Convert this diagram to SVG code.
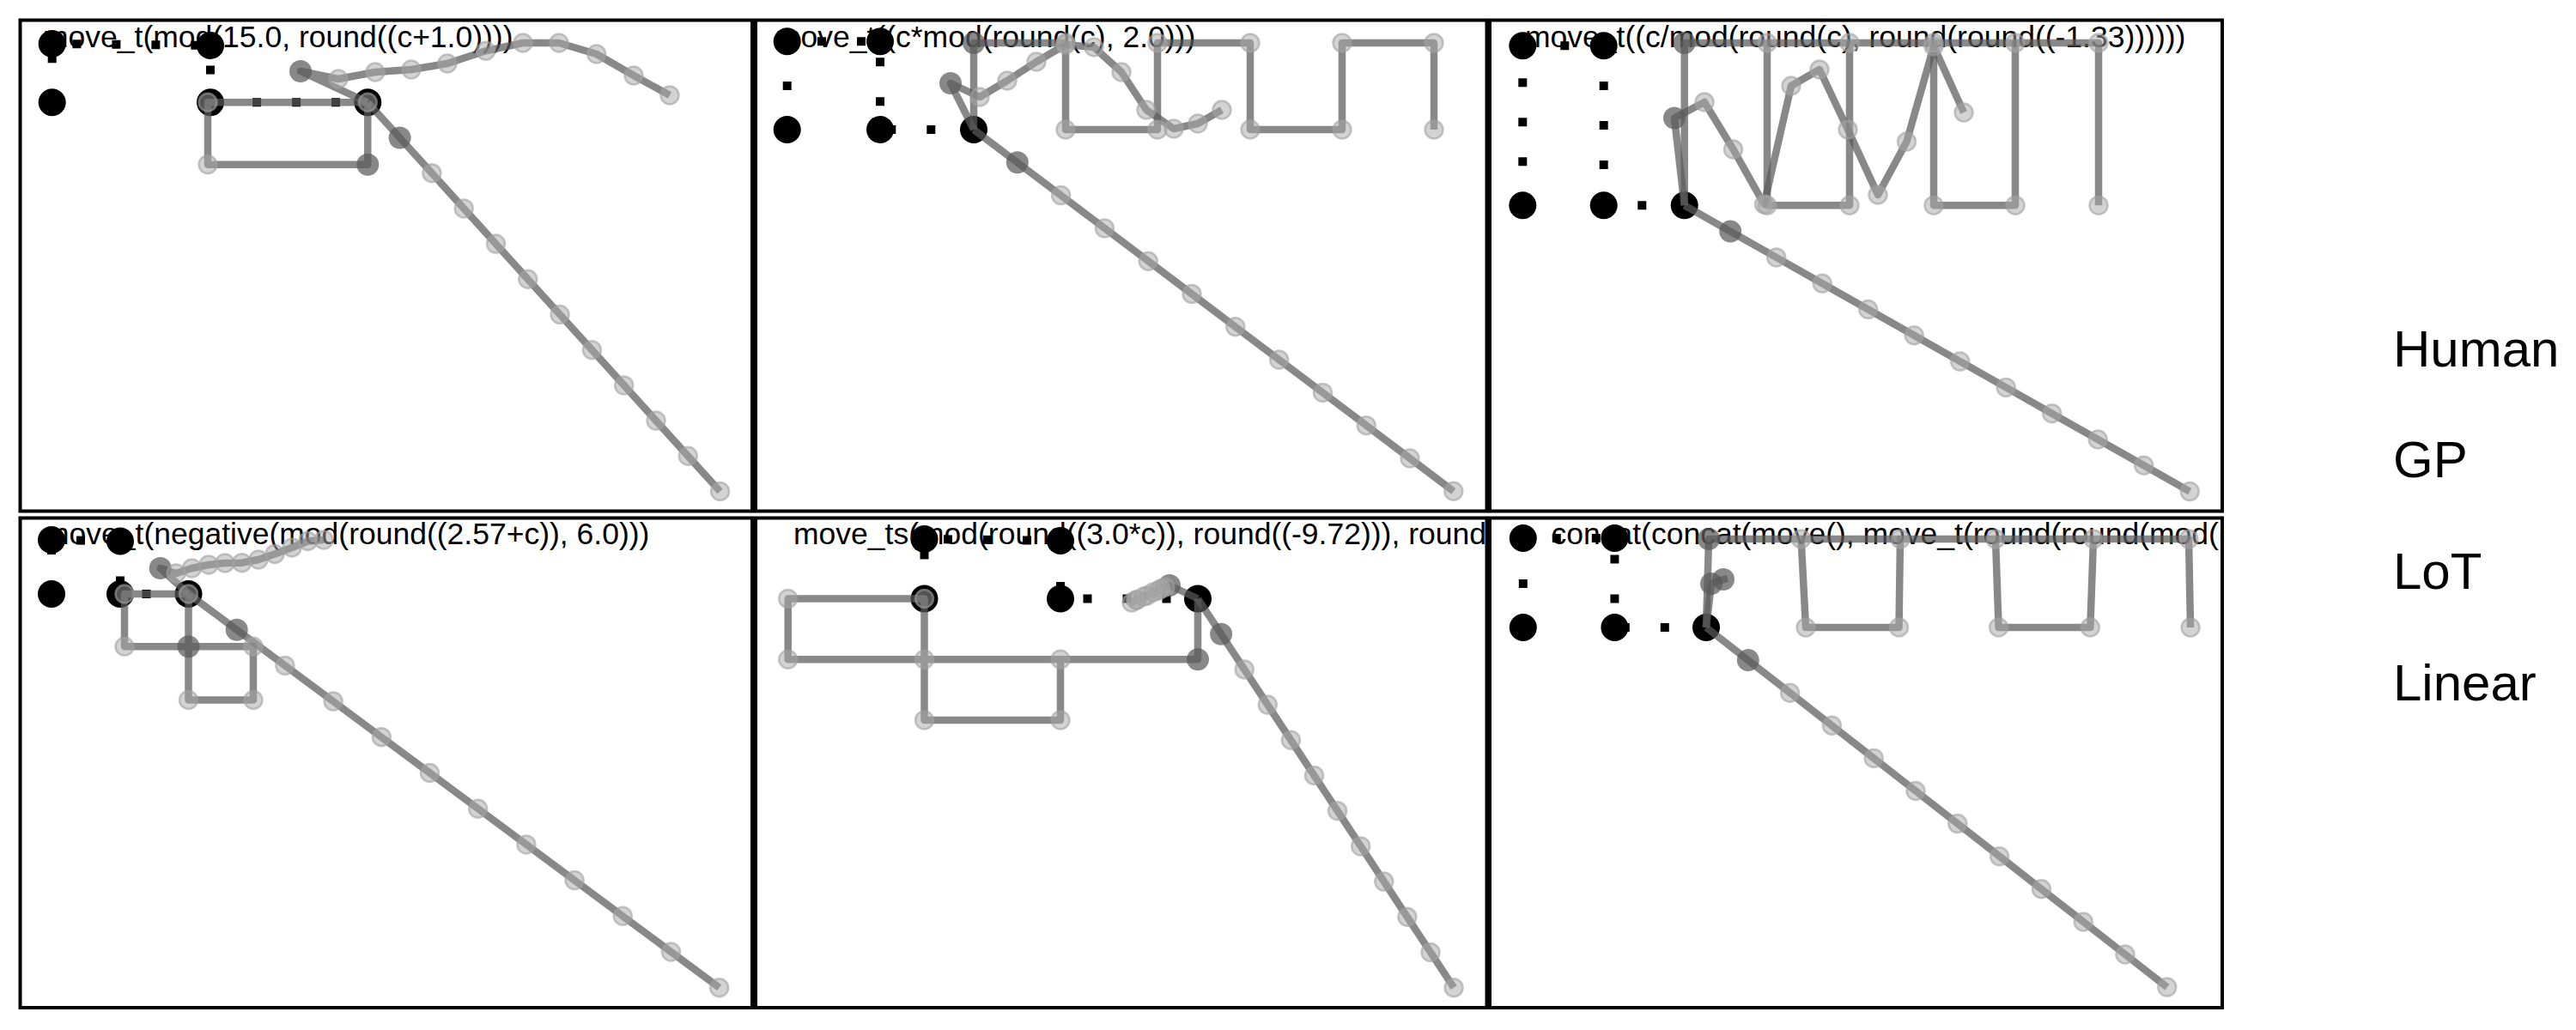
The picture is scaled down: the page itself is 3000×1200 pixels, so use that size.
<svg xmlns="http://www.w3.org/2000/svg" xmlns:xlink="http://www.w3.org/1999/xlink" width="3000" height="1200" viewBox="0 0 3000 1200">
<style>
.frame{fill:none;stroke:#000;stroke-width:4}
.title{font-family:"Liberation Sans",Arial,Helvetica,sans-serif;font-size:35.5px;fill:#000}
.legend{font-family:"Liberation Sans",Arial,Helvetica,sans-serif;font-size:60px;fill:#000}
.hl{fill:none;stroke:#000;stroke-width:10;stroke-dasharray:10 36}
.md{fill:none;stroke:#5a5a5a;stroke-opacity:0.72;stroke-width:8.5;stroke-linejoin:round}
.mkc{fill:#a8a8a8;fill-opacity:0.5;stroke:#a0a0a0;stroke-opacity:0.6;stroke-width:2.5}
.fpc{fill:#5a5a5a;fill-opacity:0.72}
</style>
<defs>
<circle id="hd" r="16" fill="#000"/>
<circle id="mk" r="10.5" class="mkc"/>
<circle id="fp" r="13" class="fpc"/>
<clipPath id="c1"><rect x="25.5" y="25.5" width="848.5" height="568"/></clipPath>
<clipPath id="c2"><rect x="882" y="25.5" width="847.5" height="568"/></clipPath>
<clipPath id="c3"><rect x="1737" y="25.5" width="849" height="568"/></clipPath>
<clipPath id="c4"><rect x="25.5" y="605.5" width="848.5" height="566.5"/></clipPath>
<clipPath id="c5"><rect x="882" y="605.5" width="847.5" height="566.5"/></clipPath>
<clipPath id="c6"><rect x="1737" y="605.5" width="849" height="566.5"/></clipPath>
</defs>
<rect width="3000" height="1200" fill="#fff"/>

<g id="panel1" clip-path="url(#c1)">
<text class="title" x="50" y="55">move_t(mod(15.0, round((c+1.0))))</text>
<polyline class="hl" points="60.7,119.3 60.7,51 245,53 245,119.3 428.3,119.3"/>
<use href="#hd" x="60.7" y="51"/><use href="#hd" x="245" y="53"/><use href="#hd" x="60.7" y="119.3"/><use href="#hd" x="245" y="119.3"/><use href="#hd" x="428.3" y="119.3"/>
<polyline class="md" points="428.3,119.3 350,83 394,92 437,84 479,81 521,74 565.7,59.3 609,50 651,50 694.7,63 738,88 780,111"/>
<polyline class="md" points="428.3,119.3 428.3,191.7 242,191.7 242,119.3 428.3,119.3"/>
<polyline class="md" points="428.3,119.3 465.6,160.5 502.9,201.7 540.2,242.9 577.5,284.1 614.8,325.3 652.1,366.5 689.4,407.7 726.7,448.9 764,490.1 801.3,531.3 838.6,572.5"/>
<use href="#fp" x="350" y="83"/><use href="#fp" x="465.6" y="160.5"/><use href="#fp" x="428.3" y="191.7"/>
<use href="#mk" x="394" y="92"/><use href="#mk" x="437" y="84"/><use href="#mk" x="479" y="81"/><use href="#mk" x="521" y="74"/><use href="#mk" x="565.7" y="59.3"/><use href="#mk" x="609" y="50"/><use href="#mk" x="651" y="50"/><use href="#mk" x="694.7" y="63"/><use href="#mk" x="738" y="88"/><use href="#mk" x="780" y="111"/>
<use href="#mk" x="242" y="191.7"/><use href="#mk" x="242" y="119.3"/><use href="#mk" x="428.3" y="119.3"/>
<use href="#mk" x="502.9" y="201.7"/><use href="#mk" x="540.2" y="242.9"/><use href="#mk" x="577.5" y="284.1"/><use href="#mk" x="614.8" y="325.3"/><use href="#mk" x="652.1" y="366.5"/><use href="#mk" x="689.4" y="407.7"/><use href="#mk" x="726.7" y="448.9"/><use href="#mk" x="764" y="490.1"/><use href="#mk" x="801.3" y="531.3"/><use href="#mk" x="838.6" y="572.5"/>
</g>
<rect class="frame" x="23.5" y="23.5" width="852.5" height="572"/>

<g id="panel2" clip-path="url(#c2)">
<text class="title" x="903" y="55">move_t((c*mod(round(c), 2.0)))</text>
<polyline class="hl" points="916.7,151 916.7,48.3 1025,48.3 1025,151 1134,151"/>
<use href="#hd" x="916.7" y="48.3"/><use href="#hd" x="1025" y="48.3"/><use href="#hd" x="916.7" y="151"/><use href="#hd" x="1025" y="151"/><use href="#hd" x="1134" y="151"/>
<polyline class="md" points="1134,151 1134,50 1241,50 1241,151 1348,151 1348,50 1456,50 1456,151 1563,151 1563,50 1670,50 1670,151"/>
<polyline class="md" points="1134,151 1107,97 1141,113 1173,94 1207,72 1241,52 1274,55 1306,84 1335,128 1367,150 1395,144 1423,128"/>
<polyline class="md" points="1134,151 1184.8,189.3 1235.6,227.6 1286.4,265.9 1337.2,304.2 1388,342.5 1438.8,380.8 1489.6,419.1 1540.4,457.4 1591.2,495.7 1642,534 1692.8,572.3"/>
<use href="#fp" x="1134" y="50"/><use href="#fp" x="1107" y="97"/><use href="#fp" x="1184.8" y="189.3"/>
<use href="#mk" x="1241" y="50"/><use href="#mk" x="1241" y="151"/><use href="#mk" x="1348" y="151"/><use href="#mk" x="1348" y="50"/><use href="#mk" x="1456" y="50"/><use href="#mk" x="1456" y="151"/><use href="#mk" x="1563" y="151"/><use href="#mk" x="1563" y="50"/><use href="#mk" x="1670" y="50"/><use href="#mk" x="1670" y="151"/>
<use href="#mk" x="1141" y="113"/><use href="#mk" x="1173" y="94"/><use href="#mk" x="1207" y="72"/><use href="#mk" x="1241" y="52"/><use href="#mk" x="1274" y="55"/><use href="#mk" x="1306" y="84"/><use href="#mk" x="1335" y="128"/><use href="#mk" x="1367" y="150"/><use href="#mk" x="1395" y="144"/><use href="#mk" x="1423" y="128"/>
<use href="#mk" x="1235.6" y="227.6"/><use href="#mk" x="1286.4" y="265.9"/><use href="#mk" x="1337.2" y="304.2"/><use href="#mk" x="1388" y="342.5"/><use href="#mk" x="1438.8" y="380.8"/><use href="#mk" x="1489.6" y="419.1"/><use href="#mk" x="1540.4" y="457.4"/><use href="#mk" x="1591.2" y="495.7"/><use href="#mk" x="1642" y="534"/><use href="#mk" x="1692.8" y="572.3"/>
</g>
<rect class="frame" x="880" y="23.5" width="851.5" height="572"/>

<g id="panel3" clip-path="url(#c3)">
<text class="title" x="1776" y="55">move_t((c/mod(round(c), round(round((-1.33))))))</text>
<polyline class="hl" points="1773.3,239.3 1773.3,53.3 1867.7,53.3 1867.7,239.3 1961.7,239.3"/>
<use href="#hd" x="1773.3" y="53.3"/><use href="#hd" x="1867.7" y="53.3"/><use href="#hd" x="1773.3" y="239.3"/><use href="#hd" x="1867.7" y="239.3"/><use href="#hd" x="1961.7" y="239.3"/>
<polyline class="md" points="1961.7,239.3 1961.7,50 2058,50 2058,239.3 2154,239.3 2154,50 2252,50 2252,239.3 2347,239.3 2347,50 2444,50 2444,239.3"/>
<polyline class="md" points="2058,50 2154,50"/>
<polyline class="md" points="2252,50 2347,50"/>
<polyline class="md" points="1961.7,239.3 1950,137.5 1985,119 2018.5,174 2054.5,238 2086,100 2119,81 2152,151 2187,227 2220.5,165 2252,54 2287,131"/>
<polyline class="md" points="1961.7,239.3 2015.2,269.6 2068.7,299.9 2122.2,330.2 2175.7,360.5 2229.2,390.8 2282.7,421.1 2336.2,451.4 2389.7,481.7 2443.2,512 2496.7,542.3 2550.2,572.6"/>
<use href="#fp" x="1961.7" y="50"/><use href="#fp" x="1950" y="137.5"/><use href="#fp" x="2015.2" y="269.6"/>
<use href="#mk" x="2058" y="50"/><use href="#mk" x="2058" y="239.3"/><use href="#mk" x="2154" y="239.3"/><use href="#mk" x="2154" y="50"/><use href="#mk" x="2252" y="50"/><use href="#mk" x="2252" y="239.3"/><use href="#mk" x="2347" y="239.3"/><use href="#mk" x="2347" y="50"/><use href="#mk" x="2444" y="50"/><use href="#mk" x="2444" y="239.3"/>
<use href="#mk" x="1985" y="119"/><use href="#mk" x="2018.5" y="174"/><use href="#mk" x="2054.5" y="238"/><use href="#mk" x="2086" y="100"/><use href="#mk" x="2119" y="81"/><use href="#mk" x="2152" y="151"/><use href="#mk" x="2187" y="227"/><use href="#mk" x="2220.5" y="165"/><use href="#mk" x="2252" y="54"/><use href="#mk" x="2287" y="131"/>
<use href="#mk" x="2068.7" y="299.9"/><use href="#mk" x="2122.2" y="330.2"/><use href="#mk" x="2175.7" y="360.5"/><use href="#mk" x="2229.2" y="390.8"/><use href="#mk" x="2282.7" y="421.1"/><use href="#mk" x="2336.2" y="451.4"/><use href="#mk" x="2389.7" y="481.7"/><use href="#mk" x="2443.2" y="512"/><use href="#mk" x="2496.7" y="542.3"/><use href="#mk" x="2550.2" y="572.6"/>
</g>
<rect class="frame" x="1735" y="23.5" width="853" height="572"/>

<g id="panel4" clip-path="url(#c4)">
<text class="title" x="51" y="633.5">move_t(negative(mod(round((2.57+c)), 6.0)))</text>
<polyline class="hl" points="60,692 60,629 140,630.5 140,692 219.5,692"/>
<use href="#hd" x="60" y="629"/><use href="#hd" x="140" y="630.5"/><use href="#hd" x="60" y="692"/><use href="#hd" x="140" y="692"/><use href="#hd" x="219.5" y="692"/>
<polyline class="md" points="219.5,692 219.5,753.3 219.5,815.5 295,815.5 295,753.3 219.5,753.3 145,753.3 145,692 219.5,692"/>
<polyline class="md" points="219.5,692 186.7,662 205,668 223.5,662 243,658 262,656 281.7,655.7 301,652 320,645.5 340,638 358.5,630.5 377,629"/>
<polyline class="md" points="219.5,692 275.7,733.7 331.9,775.4 388.1,817.1 444.3,858.8 500.5,900.5 556.7,942.2 612.9,983.9 669.1,1025.6 725.3,1067.3 781.5,1109 837.7,1150.7"/>
<use href="#fp" x="219.5" y="753.3"/><use href="#fp" x="186.7" y="662"/><use href="#fp" x="275.7" y="733.7"/>
<use href="#mk" x="219.5" y="815.5"/><use href="#mk" x="295" y="815.5"/><use href="#mk" x="295" y="753.3"/><use href="#mk" x="145" y="753.3"/><use href="#mk" x="145" y="692"/><use href="#mk" x="219.5" y="692"/>
<use href="#mk" x="205" y="668"/><use href="#mk" x="223.5" y="662"/><use href="#mk" x="243" y="658"/><use href="#mk" x="262" y="656"/><use href="#mk" x="281.7" y="655.7"/><use href="#mk" x="301" y="652"/><use href="#mk" x="320" y="645.5"/><use href="#mk" x="340" y="638"/><use href="#mk" x="358.5" y="630.5"/><use href="#mk" x="377" y="629"/>
<use href="#mk" x="331.9" y="775.4"/><use href="#mk" x="388.1" y="817.1"/><use href="#mk" x="444.3" y="858.8"/><use href="#mk" x="500.5" y="900.5"/><use href="#mk" x="556.7" y="942.2"/><use href="#mk" x="612.9" y="983.9"/><use href="#mk" x="669.1" y="1025.6"/><use href="#mk" x="725.3" y="1067.3"/><use href="#mk" x="781.5" y="1109"/><use href="#mk" x="837.7" y="1150.7"/>
</g>
<rect class="frame" x="23.5" y="603.5" width="852.5" height="570.5"/>

<g id="panel5" clip-path="url(#c5)">
<text class="title" x="924" y="633.5">move_ts(mod(round((3.0*c)), round((-9.72))), round</text>
<polyline class="hl" points="1076.5,697.5 1076.5,628 1235,630 1235,697.5 1395,697.5"/>
<use href="#hd" x="1076.5" y="628"/><use href="#hd" x="1235" y="630"/><use href="#hd" x="1076.5" y="697.5"/><use href="#hd" x="1235" y="697.5"/><use href="#hd" x="1395" y="697.5"/>
<polyline class="md" points="1395,697.5 1395,768.2 1235,768.2 1076.5,768.2 917.7,768.2 917.7,697.5 1076.5,697.5 1076.5,768.2 1076.5,839 1235,839 1235,768.2"/>
<polyline class="md" points="1395,697.5 1362,682 1349,688 1336,694 1324,699 1318,702 1323,699 1332,695 1343,690 1352,686 1357,684"/>
<polyline class="md" points="1395,697.5 1422.1,738.7 1449.2,779.9 1476.3,821.1 1503.4,862.3 1530.5,903.5 1557.6,944.7 1584.7,985.9 1611.8,1027.1 1638.9,1068.3 1666,1109.5 1693.1,1150.7"/>
<use href="#fp" x="1395" y="768.2"/><use href="#fp" x="1362" y="682"/><use href="#fp" x="1422.1" y="738.7"/>
<use href="#mk" x="1235" y="768.2"/><use href="#mk" x="1076.5" y="768.2"/><use href="#mk" x="917.7" y="768.2"/><use href="#mk" x="917.7" y="697.5"/><use href="#mk" x="1076.5" y="697.5"/><use href="#mk" x="1076.5" y="839"/><use href="#mk" x="1235" y="839"/>
<use href="#mk" x="1349" y="688"/><use href="#mk" x="1336" y="694"/><use href="#mk" x="1324" y="699"/><use href="#mk" x="1318" y="702"/><use href="#mk" x="1323" y="699"/><use href="#mk" x="1332" y="695"/><use href="#mk" x="1343" y="690"/><use href="#mk" x="1352" y="686"/><use href="#mk" x="1357" y="684"/>
<use href="#mk" x="1449.2" y="779.9"/><use href="#mk" x="1476.3" y="821.1"/><use href="#mk" x="1503.4" y="862.3"/><use href="#mk" x="1530.5" y="903.5"/><use href="#mk" x="1557.6" y="944.7"/><use href="#mk" x="1584.7" y="985.9"/><use href="#mk" x="1611.8" y="1027.1"/><use href="#mk" x="1638.9" y="1068.3"/><use href="#mk" x="1666" y="1109.5"/><use href="#mk" x="1693.1" y="1150.7"/>
</g>
<rect class="frame" x="880" y="603.5" width="851.5" height="570.5"/>

<g id="panel6" clip-path="url(#c6)">
<text class="title" x="1806.5" y="633.5">concat(concat(move(), move_t(round(round(mod((</text>
<polyline class="hl" points="1773.8,731 1773.8,627 1880.4,627 1880.4,731 1987,731"/>
<use href="#hd" x="1773.8" y="627"/><use href="#hd" x="1880.4" y="627"/><use href="#hd" x="1773.8" y="731"/><use href="#hd" x="1880.4" y="731"/><use href="#hd" x="1987" y="731"/>
<polyline class="md" points="1987,731 1990,628 2097.6,628 2103,731 2211.5,731 2213,628 2324,628 2327.6,731 2434.3,731 2438,628 2549,628 2551,731"/>
<polyline class="md" points="2097.6,628 2213,628"/>
<polyline class="md" points="2324,628 2438,628"/>
<polyline class="md" points="1987,731 1993,680 2004,676 2012,674"/>
<polyline class="md" points="1987,731 2035.8,769.1 2084.6,807.2 2133.4,845.3 2182.2,883.4 2231,921.5 2279.8,959.6 2328.6,997.7 2377.4,1035.8 2426.2,1073.9 2475,1112 2523.8,1150.1"/>
<use href="#fp" x="1990" y="628"/><use href="#fp" x="1993" y="680"/><use href="#fp" x="2007" y="675"/><use href="#fp" x="2035.8" y="769.1"/>
<use href="#mk" x="2097.6" y="628"/><use href="#mk" x="2103" y="731"/><use href="#mk" x="2211.5" y="731"/><use href="#mk" x="2213" y="628"/><use href="#mk" x="2324" y="628"/><use href="#mk" x="2327.6" y="731"/><use href="#mk" x="2434.3" y="731"/><use href="#mk" x="2438" y="628"/><use href="#mk" x="2549" y="628"/><use href="#mk" x="2551" y="731"/>
<use href="#mk" x="2084.6" y="807.2"/><use href="#mk" x="2133.4" y="845.3"/><use href="#mk" x="2182.2" y="883.4"/><use href="#mk" x="2231" y="921.5"/><use href="#mk" x="2279.8" y="959.6"/><use href="#mk" x="2328.6" y="997.7"/><use href="#mk" x="2377.4" y="1035.8"/><use href="#mk" x="2426.2" y="1073.9"/><use href="#mk" x="2475" y="1112"/><use href="#mk" x="2523.8" y="1150.1"/>
</g>
<rect class="frame" x="1735" y="603.5" width="853" height="570.5"/>

<g id="legend">
<text class="legend" x="2787" y="427">Human</text>
<text class="legend" x="2787" y="556">GP</text>
<text class="legend" x="2787" y="686">LoT</text>
<text class="legend" x="2787" y="816">Linear</text>
</g>
</svg>
